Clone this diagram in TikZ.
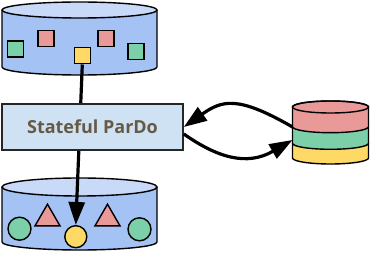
\documentclass[tikz,border=0pt]{standalone}
\usepackage{fontspec}
\newfontfamily\labelfont{Open Sans}
\usetikzlibrary{arrows.meta,shapes.geometric}

\definecolor{tankblue}{HTML}{A4C2F4}
\definecolor{tanktop}{HTML}{C9DAF8}
\definecolor{boxblue}{HTML}{CFE2F3}
\definecolor{itempink}{HTML}{EA9999}
\definecolor{itemgreen}{HTML}{7BCFA9}
\definecolor{itemyellow}{HTML}{FFD966}
\definecolor{labelbrown}{HTML}{665A47}

\begin{document}
\begin{tikzpicture}[
    x=1pt, y=1pt,
    outline/.style={draw=black, line width=1.4pt},
    item/.style={outline, rectangle, minimum size=16pt, inner sep=0pt},
    ball/.style={outline, circle, minimum size=23pt, inner sep=0pt},
    wedge/.style={outline, regular polygon, regular polygon sides=3,
                  minimum size=29pt, inner sep=0pt},
    flow/.style={line width=3.2pt, -{Triangle[length=23pt, width=16pt]}},
    procbox/.style={draw=black!85, line width=1.6pt, fill=boxblue,
                    minimum width=181pt, minimum height=46pt, text=labelbrown,
                    font=\labelfont\bfseries\fontsize{18}{20}\selectfont}
]

\useasboundingbox (0,0) rectangle (370,254);

% ---------- input collection ----------
\draw[outline, fill=tankblue] (2,244) -- (2,187)
  arc[start angle=180, end angle=360, x radius=77.5, y radius=8] -- (157,244);
\draw[outline, fill=tanktop] (79.5,244) ellipse [x radius=77.5, y radius=8];

\foreach \n/\x/\y/\c in {sqg1/15.7/205/itemgreen, sqp1/45.8/215.3/itempink,
                         sqy/82.3/198.2/itemyellow, sqp2/105.8/215.3/itempink,
                         sqg2/135.8/202.3/itemgreen}
  \node[item, fill=\c] (\n) at (\x,\y) {};

% ---------- output collection ----------
\draw[outline, fill=tankblue] (2,67) -- (2,12)
  arc[start angle=180, end angle=360, x radius=77.5, y radius=8] -- (157,67);
\draw[outline, fill=tanktop] (79.5,67) ellipse [x radius=77.5, y radius=9];

\node[ball, fill=itemgreen] (cg1) at (19.5,25.3) {};
\node[wedge, fill=itempink] (tp1) at (47.5,35.3) {};
\node[ball, fill=itemyellow, minimum size=22pt] (cy) at (75.8,17.3) {};
\node[wedge, fill=itempink] (tp2) at (107.5,35.3) {};
\node[ball, fill=itemgreen] (cg2) at (139.5,24.7) {};

% ---------- element through the transform ----------
\draw[flow] (sqy.south) -- (cy.north);

\node[procbox] (pardo) at (92.5,127) {Stateful ParDo};

% ---------- state store ----------
\draw[outline, fill=itemyellow] (292.5,110.7) -- (292.5,96)
  arc[start angle=180, end angle=360, x radius=38, y radius=6] -- (368.5,110.7);
\draw[outline, fill=itemgreen] (292.5,127.3) -- (292.5,110.7)
  arc[start angle=180, end angle=360, x radius=38, y radius=6] -- (368.5,127.3);
\draw[outline, fill=itempink] (292.5,147) -- (292.5,127.3)
  arc[start angle=180, end angle=360, x radius=38, y radius=6] -- (368.5,147)
  arc[start angle=0, end angle=180, x radius=38, y radius=6] -- cycle;
\draw[outline] (330.5,147) ellipse [x radius=38, y radius=6];

\coordinate (stateout) at (292.5,127);
\coordinate (statein) at (292.5,114);

% ---------- read / write ----------
\draw[flow] (stateout) to[out=150, in=35, out looseness=1.5, in looseness=1.1] (pardo.east);
\draw[flow] ([yshift=-7pt]pardo.east) to[out=-35, in=-150, out looseness=0.95, in looseness=1.25] (statein);

\end{tikzpicture}
\end{document}
